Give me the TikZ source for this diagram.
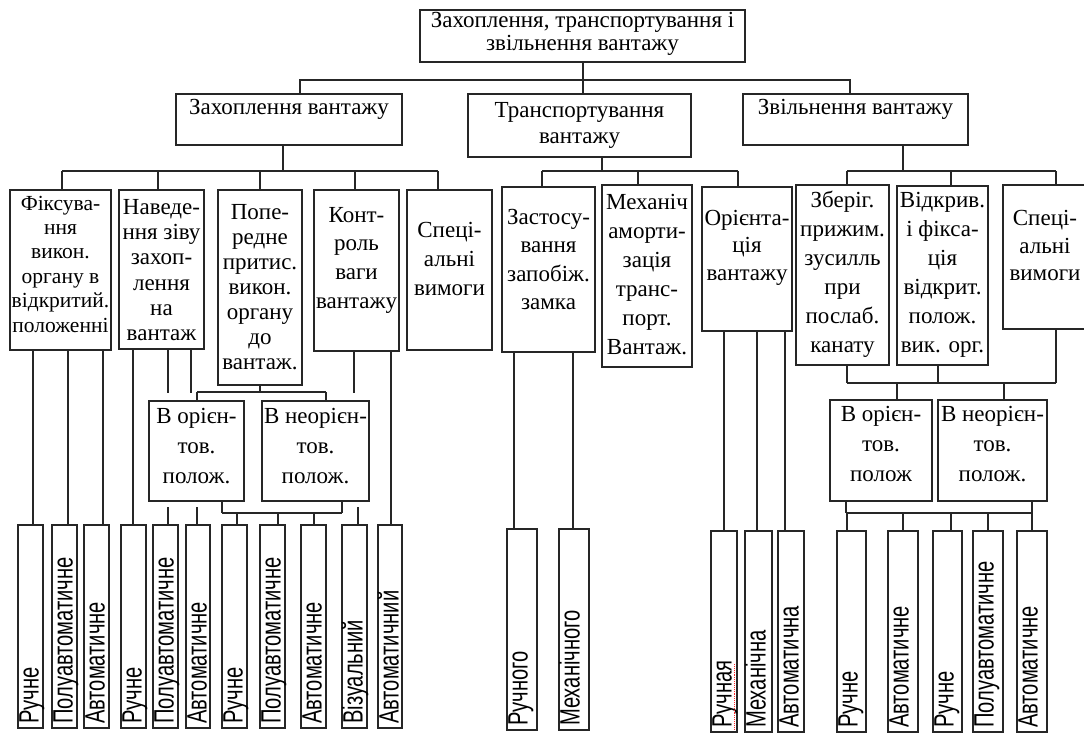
\documentclass[tikz,border=0pt]{standalone}
\usepackage{fontspec}
\setmainfont{Liberation Serif}
\newfontfamily\leaffont[FakeStretch=0.72]{Liberation Sans}
\tikzset{
  bx/.style={draw=black!85, line width=1.6pt, fill=white, inner sep=0pt, outer sep=0pt},
  tx/.style={align=center, inner sep=0pt, font=\fontsize{23}{#1}\selectfont},
  tx/.default=26,
  ln/.style={draw=black!85, line width=1.6pt},
  lf/.style={rotate=90, anchor=base west, inner sep=0pt, font=\leaffont\fontsize{28}{28}\selectfont},
}
\newcommand\bxc[5]{\node[bx, minimum width={(#4)-(#2)}, minimum height={(#5)-(#3)}] (#1) at ({((#2)+(#4))/2},{((#3)+(#5))/2}) {};}
\newcommand\leaf[6]{\bxc{#1}{#2}{#3}{#4}{#5}\node[lf] (#1t) at ({(#2)+20.5},{(#5)-4}) {#6};}
% child top (shifted) straight up to a bus coordinate or parent bottom
\newcommand\upto[3]{\coordinate (u#1) at ([xshift=#2pt]#1.north); \draw[ln] (u#1) -- (u#1 |- #3);}
% box bottom (shifted) straight down to a bus coordinate
\newcommand\downto[3]{\coordinate (d#1) at ([xshift=#2pt]#1.south); \draw[ln] (d#1) -- (d#1 |- #3);}
\begin{document}
\begin{tikzpicture}[x=1pt,y=-1pt]
\useasboundingbox (0,0) rectangle (1084,734);

% ---------- level 1 ----------
\bxc{top}{420}{10}{745}{62}
\node[tx=23] (topt) at (582.5,34) {Захоплення, транспортування і\\звільнення вантажу};

% ---------- level 2 ----------
\bxc{zah}{176}{94}{402}{145}
\node[tx] (zaht) at (289,109) {Захоплення вантажу};
\bxc{trn}{468}{94}{691}{157}
\node[tx] (trnt) at (579.5,125) {Транспортування\\вантажу};
\bxc{zvl}{743}{94}{968}{145}
\node[tx] (zvlt) at (855.5,109) {Звільнення вантажу};

% ---------- level 3 ----------
\bxc{fix}{10}{190}{111}{350}
\node[tx, font=\fontsize{21.5}{24.4}\selectfont] (fixt) at (60.5,264) {Фіксува-\\ння\\викон.\\органу в\\відкритий.\\положенні};
\bxc{nav}{119}{190}{204}{349}
\node[tx=25.2] (navt) at (161.5,270) {Наведе-\\ння зіву\\захоп-\\лення\\на\\вантаж};
\bxc{pop}{218}{190}{302}{385}
\node[tx=25] (popt) at (260,287) {Попе-\\редне\\притис.\\викон.\\органу\\до\\вантаж.};
\bxc{kon}{314}{190}{399}{351}
\node[tx=28.7] (kont) at (356.5,260) {Конт-\\роль\\ваги\\вантажу};
\bxc{spl}{407}{190}{492}{350}
\node[tx=29] (splt) at (449.5,259) {Спеці-\\альні\\вимоги};
\bxc{zas}{502}{187}{595}{352}
\node[tx=28.3] (zast) at (548.5,259.5) {Застосу-\\вання\\запобіж.\\замка};
\bxc{mex}{602}{185}{692}{367}
\node[tx=29] (mext) at (647,274.5) {Механіч\\аморти-\\зація\\транс-\\порт.\\Вантаж.};
\bxc{ori}{702}{187}{792}{331}
\node[tx=27.5] (orit) at (747,247.5) {Орієнта-\\ція\\вантажу};
\bxc{zbr}{796}{185}{889}{365}
\node[tx=29] (zbrt) at (842.5,274.5) {Зберіг.\\прижим.\\зусилль\\при\\послаб.\\канату};
\bxc{vid}{897}{186}{988}{365}
\node[tx=29] (vidt) at (942.5,274.5) {Відкрив.\\і фікса-\\ція\\відкрит.\\полож.\\вик. орг.};
\bxc{spr}{1003}{185}{1087}{329}
\node[tx=27.5] (sprt) at (1045,245.5) {Спеці-\\альні\\вимоги};

% ---------- level 4 ----------
\bxc{voa}{149}{401}{244}{501}
\node[tx=30] (voat) at (196.5,446) {В орієн-\\тов.\\полож.};
\bxc{vna}{262}{401}{369}{501}
\node[tx=30] (vnat) at (315.5,446) {В неорієн-\\тов.\\полож.};
\bxc{vob}{830}{400}{932}{501}
\node[tx=30] (vobt) at (881,444) {В орієн-\\тов.\\полож};
\bxc{vnb}{938}{400}{1047}{501}
\node[tx=30] (vnbt) at (992.5,444) {В неорієн-\\тов.\\полож.};

% ---------- leaves ----------
\leaf{L1}{18}{525}{43}{728}{Ручне}
\leaf{L2}{52}{525}{77}{728}{Полуавтоматичне}
\leaf{L3}{84}{525}{109}{728}{Автоматичне}
\leaf{L4}{121}{525}{146}{728}{Ручне}
\leaf{L5}{153}{525}{178}{728}{Полуавтоматичне}
\leaf{L6}{186}{525}{210}{728}{Автоматичне}
\leaf{L7}{222}{525}{247}{728}{Ручне}
\leaf{L8}{260}{525}{285}{728}{Полуавтоматичне}
\leaf{L9}{301}{525}{326}{728}{Автоматичне}
\leaf{L10}{342}{525}{367}{728}{Візуальний}
\leaf{L11}{378}{525}{402}{728}{Автоматичний}
\leaf{M1}{507}{529}{537}{730}{Ручного}
\leaf{M2}{559}{529}{589}{730}{Механічного}
\leaf{O1}{711}{531}{737}{732}{Ручная}
\leaf{O2}{745}{531}{772}{732}{Механічна}
\leaf{O3}{778}{531}{804}{732}{Автоматична}
\leaf{R1}{837}{531}{866}{732}{Ручне}
\leaf{R2}{888}{531}{918}{732}{Автоматичне}
\leaf{R3}{933}{531}{962}{732}{Ручне}
\leaf{R4}{973}{531}{1003}{732}{Полуавтоматичне}
\leaf{R5}{1017}{531}{1047}{732}{Автоматичне}
\draw[red!85, densely dotted, line width=0.9pt] (734,664) -- (734,729);

% ---------- bus coordinates ----------
\coordinate (b0l) at (300,80);
\coordinate (b0r) at (850,80);
\coordinate (b1) at (0,171);
\coordinate (b2) at (0,392);
\coordinate (b3) at (0,513);
\coordinate (b4) at (0,383);
\coordinate (g1) at (0,393);
\coordinate (g2) at (0,507);

% level 1 -> 2
\coordinate (topd) at ([xshift=0.5pt]top.south);
\draw[ln] (topd) -- (trn.north -| topd);
\draw[ln] (zah.north -| b0l) -- (b0l) -- (b0r) -- (zvl.north -| b0r);

% Захоплення -> children
\downto{zah}{-6}{b1}
\upto{fix}{1.5}{b1}
\upto{nav}{-3.5}{b1}
\upto{pop}{0}{b1}
\upto{kon}{-1.5}{b1}
\upto{spl}{-11.5}{b1}
\draw[ln] (ufix |- b1) -- (uspl |- b1);

% Транспортування -> children
\downto{trn}{22.5}{b1}
\upto{zas}{-6.5}{b1}
\upto{mex}{-9}{b1}
\upto{ori}{-9}{b1}
\draw[ln] (uzas |- b1) -- (uori |- b1);

% Звільнення -> children
\downto{zvl}{47.5}{b1}
\upto{zbr}{4.5}{b1}
\upto{vid}{8.5}{b1}
\upto{spr}{11}{b1}
\draw[ln] (uzbr |- b1) -- (uspr |- b1);

% Фіксування -> leaves
\upto{L1}{2.5}{fix.south}
\upto{L2}{3.5}{fix.south}
\upto{L3}{6.5}{fix.south}
% Наведення -> leaves
\upto{L4}{-0.5}{nav.south}
\coordinate (uL5) at ([xshift=2.5pt]L5.north);
\draw[ln] (uL5) -- (uL5 |- g2);
\draw[ln] (nav.south -| uL5) -- (g1 -| uL5);
\coordinate (uL6) at ([xshift=-1pt]L6.north);
\coordinate (sL6) at ([xshift=-7pt]L6.north);
\draw[ln] (uL6) -- (uL6 |- g2);
\draw[ln] (nav.south -| sL6) -- (g1 -| sL6);
% Попереднє -> В-boxes
\draw[ln] (pop.south) -- (pop.south |- b2);
\upto{voa}{0.5}{b2}
\upto{vna}{10.5}{b2}
\draw[ln] (uvoa |- b2) -- (uvna |- b2);
\downto{voa}{25.5}{b3}
\downto{vna}{26.5}{b3}
\draw[ln] (dvoa |- b3) -- (dvna |- b3);
\upto{L7}{2.5}{b3}
\upto{L8}{5.5}{b3}
\upto{L9}{0.5}{b3}
% Контроль -> leaves
\coordinate (uL10) at ([xshift=3.5pt]L10.north);
\coordinate (sL10) at ([xshift=-0.5pt]L10.north);
\draw[ln] (uL10) -- (uL10 |- g2);
\draw[ln] (kon.south -| sL10) -- (g1 -| sL10);
\upto{L11}{1}{kon.south}
% Застосування -> leaves
\upto{M1}{-8}{zas.south}
\upto{M2}{-1}{zas.south}
% Орієнтація -> leaves
\upto{O1}{0}{ori.south}
\upto{O2}{-1.5}{ori.south}
\upto{O3}{-6}{ori.south}
% right block
\downto{zbr}{4.5}{b4}
\downto{vid}{-4.5}{b4}
\downto{spr}{11}{b4}
\draw[ln] (dzbr |- b4) -- (dspr |- b4);
\upto{vob}{16}{b4}
\upto{vnb}{11.5}{b4}
\downto{vob}{-35}{b3}
\downto{vnb}{39.5}{b3}
\draw[ln] (dvob |- b3) -- (dvnb |- b3);
\upto{R1}{-4.5}{b3}
\upto{R2}{0}{b3}
\upto{R3}{3.5}{b3}
\upto{R4}{0}{b3}
\upto{R5}{0}{b3}
\end{tikzpicture}
\end{document}
